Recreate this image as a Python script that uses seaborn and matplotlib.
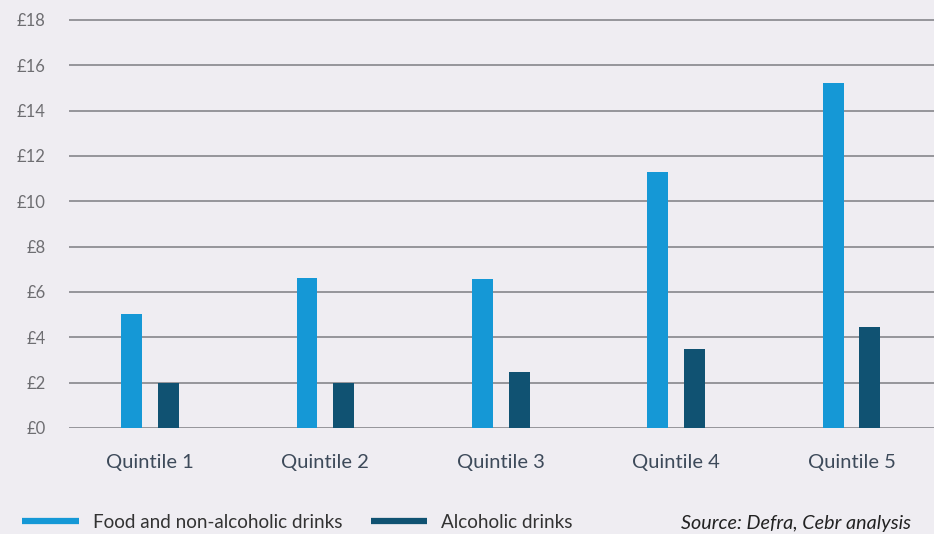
import matplotlib
matplotlib.use("Agg")
import matplotlib.pyplot as plt
from matplotlib.lines import Line2D
import seaborn as sns
import pandas as pd

categories = ["Quintile 1", "Quintile 2", "Quintile 3", "Quintile 4", "Quintile 5"]
series_names = ["Food and non-alcoholic drinks", "Alcoholic drinks"]
food = [5.02, 6.62, 6.57, 11.3, 15.2]
alcohol = [2.0, 2.0, 2.47, 3.48, 4.46]
y_ticks = [0, 2, 4, 6, 8, 10, 12, 14, 16, 18]
y_tick_labels = ["£" + str(v) for v in y_ticks]
source_text = "Source: Defra, Cebr analysis"

colors = ["#1598d6", "#105272"]
bg = "#efedf2"

df = pd.DataFrame({
    "Quintile": categories * 2,
    "Series": [series_names[0]] * len(categories) + [series_names[1]] * len(categories),
    "Value": food + alcohol,
})

sns.set_theme(style="white")
plt.rcParams["font.family"] = ["Lato", "DejaVu Sans"]

fig = plt.figure(figsize=(9.34, 5.34), dpi=100)
fig.patch.set_facecolor(bg)
ax = fig.add_axes([69 / 934, 1 - 428 / 534, (934 - 69) / 934, (428 - 15.4) / 534])
ax.set_facecolor(bg)

sns.barplot(data=df, x="Quintile", y="Value", hue="Series", order=categories,
            hue_order=series_names, palette=colors, width=0.42, gap=0.43,
            saturation=1, legend=False, ax=ax, errorbar=None, linewidth=0)

ax.set_xlim(-0.462, 4.47)
ax.set_ylim(0, 18.2)
ax.set_yticks(y_ticks)
ax.set_yticklabels(y_tick_labels)
ax.yaxis.grid(True, color="#8e8e93", linewidth=1.3)
ax.set_axisbelow(True)
for s in ax.spines.values():
    s.set_visible(False)
ax.set_xlabel("")
ax.set_ylabel("")
ax.tick_params(axis="y", length=0, pad=17, labelsize=12, labelcolor="#6e6e72")
ax.tick_params(axis="x", length=0, pad=19, labelsize=14.5, labelcolor="#3d4a5a")

handles = [Line2D([0], [0], color=c, linewidth=4.5, solid_capstyle="butt") for c in colors]
fig.legend(handles, series_names, loc="center left", bbox_to_anchor=(22 / 934, 1 - 522 / 534),
           ncol=2, frameon=False, handlelength=3.0, handletextpad=0.75,
           columnspacing=1.5, labelcolor="#333333", borderpad=0, borderaxespad=0,
           prop={"family": ["Lato", "DejaVu Sans"], "size": 13.6})

fig.text(911 / 934, 1 - 524 / 534, source_text, ha="right", va="center",
         fontsize=14.2, style="italic", color="#222222")

fig.savefig("out.png", dpi=100, facecolor=bg)
